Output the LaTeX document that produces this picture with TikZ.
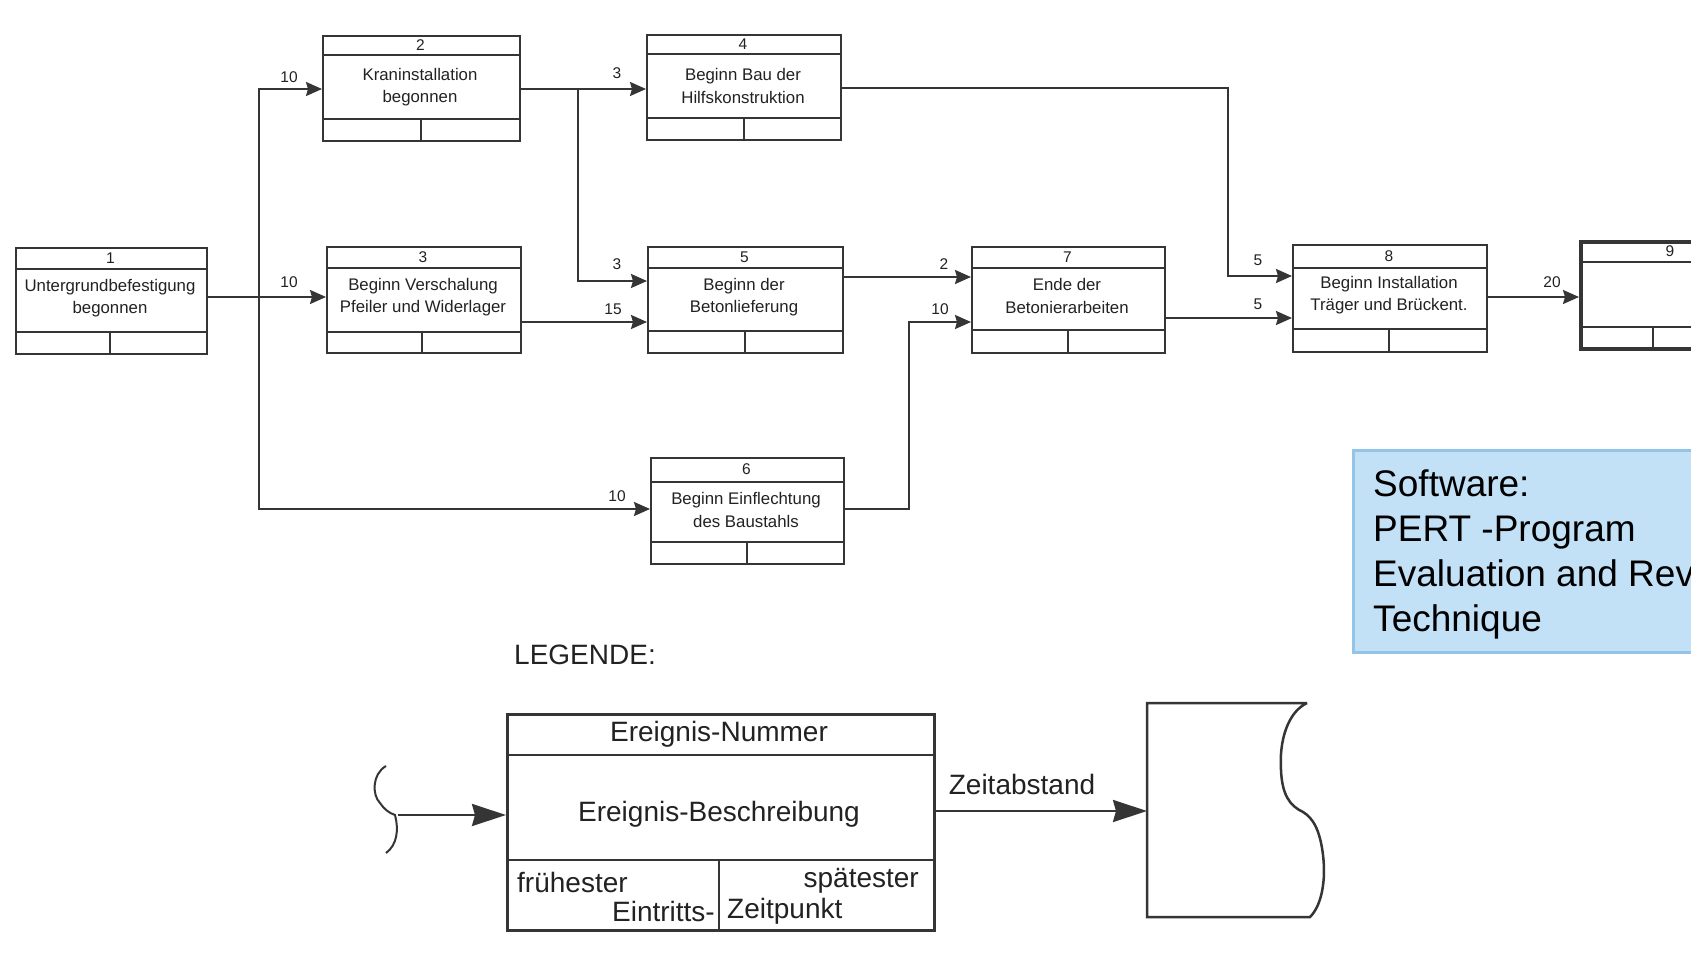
\documentclass[tikz,border=0pt]{standalone}
\usepackage{fontspec}
\setmainfont{Liberation Sans}
\usetikzlibrary{arrows.meta,calc}
\definecolor{ink}{HTML}{353535}
\definecolor{txt}{HTML}{222222}
\definecolor{bluefill}{RGB}{194,224,246}
\definecolor{blueline}{RGB}{150,196,232}
\tikzset{
  evb/.style={draw=ink, line width=2pt, inner sep=0pt, anchor=north west},
  evl/.style={draw=ink, line width=1.8pt},
  num/.style={text=txt, font=\fontsize{15.5}{18}\selectfont, inner sep=0pt},
  desc/.style={text=txt, font=\fontsize{16.8}{22.5}\selectfont, align=center, inner sep=0pt},
  lab/.style={text=txt, font=\fontsize{15.5}{18}\selectfont, inner sep=0pt},
  conn/.style={draw=ink, line width=2pt, -{Stealth[length=16pt,width=14pt,inset=2pt]}},
  bigarr/.style={draw=ink, line width=2.5pt, -{Stealth[length=34pt,width=22pt,inset=3pt]}},
  legtxt/.style={text=txt, font=\fontsize{28}{34}\selectfont, inner sep=0pt},
  legline/.style={draw=ink, line width=2.5pt},
  softtxt/.style={text=black, font=\fontsize{37}{45}\selectfont, inner sep=0pt, anchor=base west}
}
\newcommand\evbox[9]{%
  \node[evb, minimum width={(#4-#2)*1pt}, minimum height={(#5-#3)*1pt}] (#1) at (#2,#3) {};
  \draw[evl] (#2,#6) -- (#4,#6) (#2,#7) -- (#4,#7) (#8,#7) -- (#8,#5);
  \node[num] (#1n) at ({(#2+#4)/2},{(#3+#6)/2}) {#9};
}
\begin{document}
\begin{tikzpicture}[x=1pt,y=-1pt]
\useasboundingbox (0,0) rectangle (1691,971);
\fill[white] (0,0) rectangle (1691,971);
\clip (0,0) rectangle (1691,971);

% event boxes
\evbox{e1}{15}{247}{206}{353}{269}{332}{110}{1}
\evbox{e2}{322}{35}{519}{140}{55}{119}{421}{2}
\evbox{e3}{326}{246}{520}{352}{268}{332}{422}{3}
\evbox{e4}{646}{34}{840}{139}{54}{118}{744}{4}
\evbox{e5}{647}{246}{842}{352}{268}{331}{745}{5}
\evbox{e6}{650}{457}{843}{563}{482}{542}{747}{6}
\evbox{e7}{971}{246}{1164}{352}{268}{330}{1068}{7}
\evbox{e8}{1292}{244}{1486}{351}{268}{329}{1389}{8}
\node[evb, line width=4pt, minimum width=141pt, minimum height=107pt] (e9) at (1579,240) {};
\draw[evl] (1579,262) -- (1720,262) (1579,327) -- (1720,327) (1653,327) -- (1653,347);
\node[num] (e9n) at (1670,251) {9};

\node[desc] (d1) at (110,298) {Untergrundbefestigung\\begonnen};
\node[desc] (d2) at (420,87) {Kraninstallation\\begonnen};
\node[desc] (d3) at (423,297) {Beginn Verschalung\\Pfeiler und Widerlager};
\node[desc] (d4) at (743,86) {Beginn Bau der\\Hilfskonstruktion};
\node[desc] (d5) at (744,297) {Beginn der\\Betonlieferung};
\node[desc] (d6) at (746,510) {Beginn Einflechtung\\des Baustahls};
\node[desc] (d7) at (1067,296) {Ende der\\Betonierarbeiten};
\node[desc] (d8) at (1389,295) {Beginn Installation\\Träger und Brückent.};

% junctions
\coordinate (j1) at (259,297);
\coordinate (j2) at (578,89);
\coordinate (j4) at (1228,88);
\coordinate (j6) at (909,509);

% connectors
\draw[conn] (e1.east |- j1) -- (e3.west |- j1);
\draw[conn] (j1) |- (e2.west |- j2);
\draw[conn] (j1) |- (e6.west |- j6);
\draw[conn] (e2.east |- j2) -- (e4.west |- j2);
\draw[conn] (j2) |- (e5.west |- 0,281);
\draw[conn] (e3.east |- 0,322) -- (e5.west |- 0,322);
\draw[conn] (e4.east |- j4) -- (j4) |- (e8.west |- 0,276);
\draw[conn] (e5.east |- 0,277) -- (e7.west |- 0,277);
\draw[conn] (e6.east |- j6) -- (j6) |- (e7.west |- 0,322);
\draw[conn] (e7.east |- 0,318) -- (e8.west |- 0,318);
\draw[conn] (e8.east |- 0,297) -- (e9.west |- 0,297);

% edge labels
\node[lab] (l1) at (289,77) {10};
\node[lab] (l2) at (289,282) {10};
\node[lab] (l3) at (617,496) {10};
\node[lab] (l4) at (617,73) {3};
\node[lab] (l5) at (617,264) {3};
\node[lab] (l6) at (613,309) {15};
\node[lab] (l7) at (944,264) {2};
\node[lab] (l8) at (940,309) {10};
\node[lab] (l9) at (1258,260) {5};
\node[lab] (l10) at (1258,304) {5};
\node[lab] (l11) at (1552,282) {20};

% software box
\node[draw=blueline, fill=bluefill, line width=3pt, anchor=north west, minimum width=380pt, minimum height=202pt, inner sep=0pt] (sw) at (1352,449) {};
\node[softtxt] (s1) at (1373,496) {Software:};
\node[softtxt] (s2) at (1373,541) {PERT -Program};
\node[softtxt] (s3) at (1373,586) {Evaluation and Rev};
\node[softtxt] (s4) at (1373,631) {Technique};

% legend
\node[legtxt, anchor=west] (leg) at (514,655) {LEGENDE:};
\node[legline, inner sep=0pt, anchor=north west, minimum width=427pt, minimum height=216pt] (eL) at (506,713) {};
\draw[legline] (506,755) -- (933,755) (506,860) -- (933,860) (719,860) -- (719,929);
\node[legtxt] (lt1) at (719,734) {Ereignis-Nummer};
\node[legtxt] (lt2) at (719,814) {Ereignis-Beschreibung};
\node[legtxt, anchor=west] (lt3) at (517,882) {frühester};
\node[legtxt, anchor=east] (lt4) at (919,881) {spätester};
\node[legtxt, anchor=east] (lt5) at (715,911) {Eintritts-};
\node[legtxt, anchor=west] (lt6) at (727,911) {Zeitpunkt};

% left brace
\draw[ink, line width=2pt] (386,766) .. controls (372,774) and (372,795) .. (380,803)
  .. controls (384,809) and (389,813) .. (395,815)
  .. controls (399,830) and (397,845) .. (386,853);
\coordinate (bt) at (398,815);
\draw[bigarr] (bt) -- (eL.west |- bt);

% right open box
\node[inner sep=0pt, anchor=north west, minimum width=160pt, minimum height=214pt] (rb) at (1147,703) {};
\draw[legline] (1307,703) -- (1147,703) -- (1147,917) -- (1310,917)
  .. controls (1322,905) and (1326,880) .. (1323,855)
  .. controls (1320,830) and (1313,818) .. (1303,812)
  .. controls (1290,806) and (1282,795) .. (1281,770)
  .. controls (1279,740) and (1288,712) .. (1307,703);
\draw[bigarr] (eL.east |- 0,811) -- (rb.west |- 0,811);
\node[legtxt] (zt) at (1022,784) {Zeitabstand};
\end{tikzpicture}
\end{document}
